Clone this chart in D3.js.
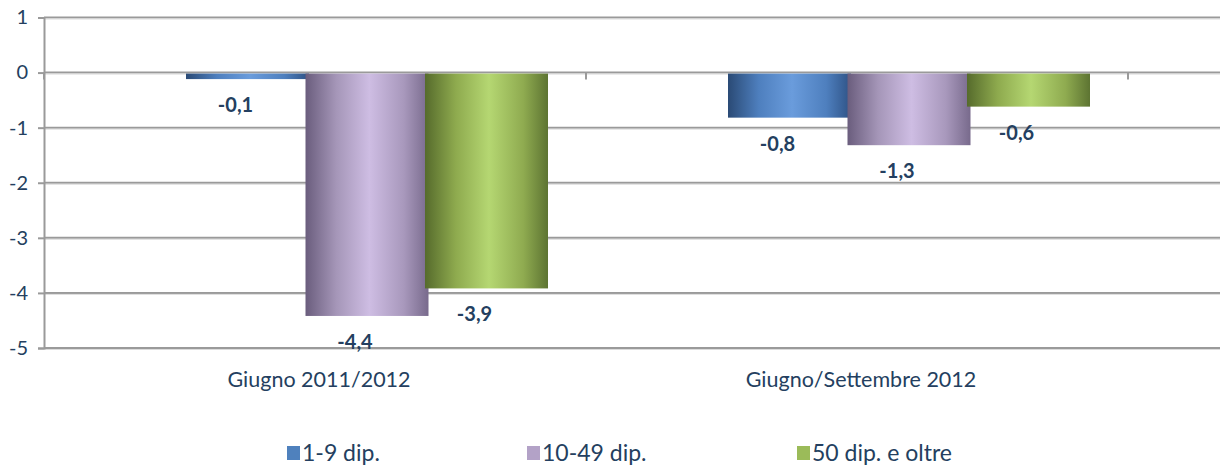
<!DOCTYPE html>
<html><head><meta charset="utf-8">
<script src="https://cdn.jsdelivr.net/npm/d3@7"></script>
<style>body{margin:0;background:#fff}svg{display:block}text{font-family:Lato,"Open Sans",sans-serif}</style>
</head><body><svg id="c" width="1222" height="467"></svg>
<script>
const categories = ["Giugno 2011/2012", "Giugno/Settembre 2012"];
const series = ["1-9 dip.", "10-49 dip.", "50 dip. e oltre"];
const values = {
  "1-9 dip.": [-0.1, -0.8],
  "10-49 dip.": [-4.4, -1.3],
  "50 dip. e oltre": [-3.9, -0.6]
};
const yTicks = [1, 0, -1, -2, -3, -4, -5];

const svg = d3.select("#c");
const txt = "#243F60";
const left = 44, right = 1128, gridRight = 1220;
const x = d3.scaleBand().domain(categories).range([left, right]);
const y = d3.scaleLinear().domain([-5, 1]).range([348, 17.5]);
const sub = d3.scalePoint().domain(series).range([-129, 110]);
const barW = 123;

const grads = {
  "1-9 dip.": ["#2A4A75", "#4E7FBE", "#6A9CDC", "#4E7FBE", "#2E5285"],
  "10-49 dip.": ["#6A5D7D", "#A596B8", "#CEBDE3", "#A898BC", "#786A8C"],
  "50 dip. e oltre": ["#566B2C", "#8EAA4E", "#B5D772", "#8FAB50", "#5D7432"]
};
const legendCol = {"1-9 dip.": "#4F81BD", "10-49 dip.": "#B3A2C7", "50 dip. e oltre": "#9BBB59"};
const defs = svg.append("defs");
series.forEach((s, i) => {
  const g = defs.append("linearGradient").attr("id", "g" + i).attr("x1", 0).attr("x2", 1).attr("y1", 0).attr("y2", 0);
  [0, 0.25, 0.52, 0.8, 1].forEach((o, k) => g.append("stop").attr("offset", o).attr("stop-color", grads[s][k]));
});

// gridlines
svg.append("g").selectAll("line").data(yTicks).join("line")
  .attr("x1", left).attr("x2", gridRight)
  .attr("y1", d => y(d)).attr("y2", d => y(d))
  .attr("stroke", "#9a9a9a").attr("stroke-width", 2);
svg.append("g").selectAll("line").data(yTicks).join("line")
  .attr("x1", left).attr("x2", gridRight)
  .attr("y1", d => y(d) + 1.5).attr("y2", d => y(d) + 1.5)
  .attr("stroke", "#dcdcdc").attr("stroke-width", 1);

// y axis
const ya = svg.append("g").attr("transform", `translate(${left},0)`)
  .call(d3.axisLeft(y).tickValues(yTicks).tickSize(6).tickPadding(10).tickFormat(d3.format("d")));
ya.select(".domain").attr("stroke", "#9a9a9a").attr("stroke-width", 2);
ya.selectAll(".tick line").attr("stroke", "#9a9a9a").attr("stroke-width", 2);
ya.selectAll(".tick text").attr("fill", txt).attr("font-size", 20).text(d => String(d).replace("−", "-"));

// category ticks on zero line
const bounds = [left, ...categories.map(c => x(c) + x.bandwidth())];
svg.append("g").selectAll("line").data(bounds).join("line")
  .attr("x1", d => d).attr("x2", d => d).attr("y1", y(0)).attr("y2", y(0) + 7)
  .attr("stroke", "#9a9a9a").attr("stroke-width", 2);

// bars
const flat = [];
series.forEach((s, i) => categories.forEach((c, j) => flat.push({s, i, c, v: values[s][j]})));
const cx = d => x(d.c) + x.bandwidth() / 2 + sub(d.s);
svg.append("g").selectAll("rect").data(flat).join("rect")
  .attr("x", d => cx(d)).attr("width", barW)
  .attr("y", d => Math.min(y(0), y(d.v)) + 1).attr("height", d => Math.abs(y(d.v) - y(0)))
  .attr("fill", d => `url(#g${d.i})`);

// value labels
const fmt = v => d3.format(".1f")(v).replace(".", ",").replace("−", "-");
svg.append("g").selectAll("text").data(flat).join("text")
  .attr("x", d => cx(d) + barW / 2 - 12).attr("y", d => y(d.v) + 34)
  .attr("text-anchor", "middle").attr("font-size", 20).attr("font-weight", "bold").attr("fill", txt)
  .text(d => fmt(d.v));

// category labels
svg.append("g").selectAll("text").data(categories).join("text")
  .attr("x", d => x(d) + x.bandwidth() / 2 + 4).attr("y", 387)
  .attr("text-anchor", "middle").attr("font-size", 21.5).attr("fill", txt).text(d => d);

// legend
const legX = [287, 527, 797];
const lg = svg.append("g").selectAll("g").data(series).join("g")
  .attr("transform", (d, i) => `translate(${legX[i]},446)`);
lg.append("rect").attr("width", 13).attr("height", 14).attr("fill", d => legendCol[d]);
lg.append("text").attr("x", 15).attr("y", 15).attr("font-size", 23).attr("fill", txt).text(d => d);
</script></body></html>
